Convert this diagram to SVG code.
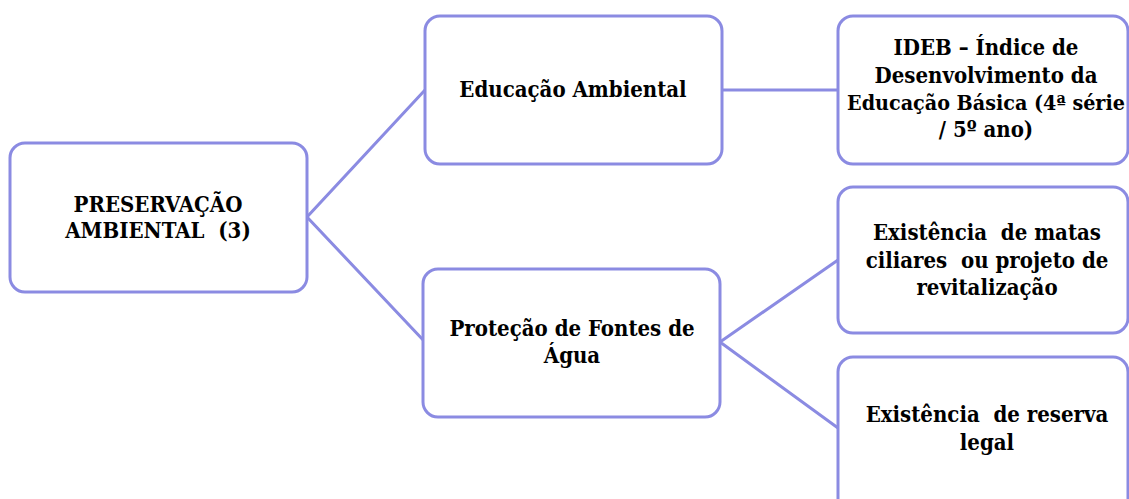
<svg xmlns="http://www.w3.org/2000/svg" width="1129" height="499" viewBox="0 0 1129 499">
<style>
.box{fill:#ffffff;stroke:#8b8be2;stroke-width:3}
.link{fill:none;stroke:#8b8be2;stroke-width:3}
.t{font-family:'DejaVu Serif',serif;font-stretch:condensed;font-weight:bold;font-size:22px;fill:#000;text-anchor:middle}
.s{font-size:21.3px}
</style>
<rect width="1129" height="499" fill="#ffffff"/>
<g id="connectors">
<polyline class="link" points="425,90 307,217 425,342"/>
<line class="link" x1="722" y1="90" x2="838" y2="90"/>
<polyline class="link" points="838,260 720,342 838,428"/>
</g>
<g id="n1">
<rect class="box" x="10" y="143" width="297" height="149" rx="15"/>
<text class="t" x="158" y="212">PRESERVAÇÃO</text>
<text class="t" x="158" y="238" xml:space="preserve">AMBIENTAL  (3)</text>
</g>
<g id="n2">
<rect class="box" x="425" y="16" width="297" height="148" rx="15"/>
<text class="t" x="573" y="97">Educação Ambiental</text>
</g>
<g id="n3">
<rect class="box" x="423" y="269" width="297" height="148" rx="15"/>
<text class="t" x="572" y="336">Proteção de Fontes de</text>
<text class="t" x="572" y="363">Água</text>
</g>
<g id="n4">
<rect class="box" x="838" y="16" width="290" height="148" rx="15"/>
<text class="t" x="986" y="55">IDEB – Índice de</text>
<text class="t" x="986" y="83">Desenvolvimento da</text>
<text class="t s" x="986" y="110">Educação Básica (4ª série</text>
<text class="t" x="986" y="137">/ 5º ano)</text>
</g>
<g id="n5">
<rect class="box" x="838" y="187" width="290" height="146" rx="15"/>
<text class="t" x="987" y="240" xml:space="preserve">Existência  de matas</text>
<text class="t" x="987" y="268" xml:space="preserve">ciliares  ou projeto de</text>
<text class="t" x="987" y="295">revitalização</text>
</g>
<g id="n6">
<rect class="box" x="838" y="357" width="290" height="170" rx="15"/>
<text class="t" x="987" y="422" xml:space="preserve">Existência  de reserva</text>
<text class="t" x="987" y="450">legal</text>
</g>
</svg>
